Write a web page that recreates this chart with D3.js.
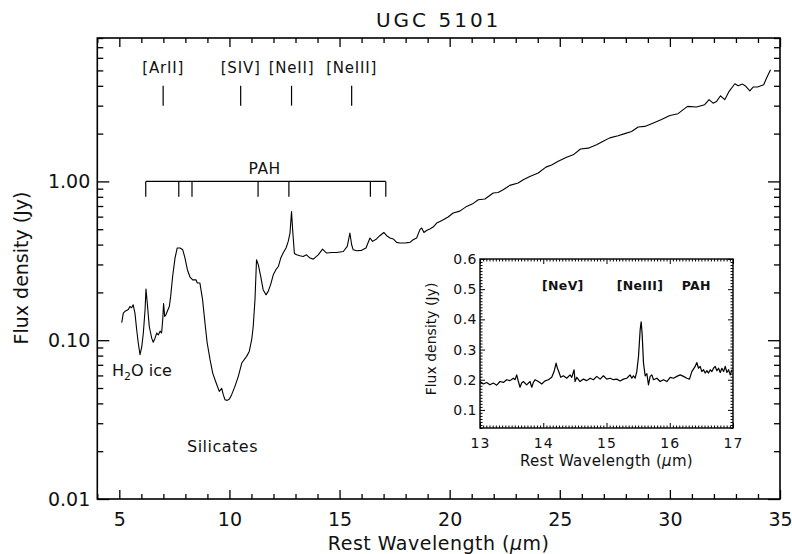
<!DOCTYPE html>
<html>
<head>
<meta charset="utf-8">
<script src="https://cdn.jsdelivr.net/npm/d3@7/dist/d3.min.js"></script>
<style>
  html, body { margin: 0; padding: 0; background: #fff; }
  svg { display: block; }
  text { font-family: "DejaVu Sans", sans-serif; fill: #111; }
</style>
</head>
<body>
<svg id="chart" width="792" height="554"></svg>
<script>
// ---------------- data ----------------
const titleText = "UGC 5101";
const wavelength = [5.11,5.18,5.26,5.41,5.48,5.56,5.63,5.71,5.79,5.86,5.94,6.02,6.09,6.17,6.21,6.27,6.36,6.47,6.54,6.62,6.70,6.77,6.85,6.92,6.97,7.01,7.06,7.12,7.18,7.27,7.33,7.42,7.53,7.63,7.76,7.88,7.98,8.09,8.21,8.33,8.48,8.54,8.66,8.78,8.89,8.99,9.12,9.24,9.39,9.54,9.65,9.72,9.80,9.90,10.0,10.1,10.25,10.40,10.56,10.78,10.90,11.01,11.08,11.16,11.23,11.31,11.42,11.53,11.66,11.76,11.87,11.99,12.11,12.22,12.33,12.45,12.57,12.67,12.75,12.82,12.88,12.95,13.05,13.20,13.35,13.50,13.66,13.81,14.03,14.23,14.41,14.64,14.87,15.17,15.35,15.47,15.55,15.62,15.78,16.00,16.20,16.38,16.50,16.68,16.83,17.01,17.14,17.29,17.44,17.59,17.74,17.97,18.20,18.34,18.50,18.65,18.73,18.83,18.95,19.10,19.25,19.41,19.56,19.71,19.93,20.16,20.46,20.77,21.07,21.30,21.60,21.98,22.20,22.43,22.73,23.11,23.34,23.64,24.02,24.37,24.63,24.93,25.31,25.61,25.94,26.29,26.67,26.97,27.27,27.65,27.95,28.26,28.56,28.86,29.17,29.62,30.00,30.37,30.80,31.21,31.58,31.78,31.96,32.12,32.30,32.49,32.69,32.95,33.10,33.30,33.45,33.63,33.78,33.98,34.26,34.39,34.57];
const flux = [0.129,0.148,0.152,0.156,0.163,0.160,0.167,0.148,0.116,0.096,0.081,0.091,0.111,0.156,0.210,0.171,0.122,0.103,0.097,0.103,0.111,0.108,0.114,0.111,0.134,0.170,0.141,0.145,0.152,0.163,0.188,0.252,0.330,0.381,0.381,0.371,0.330,0.278,0.250,0.240,0.240,0.229,0.229,0.180,0.128,0.096,0.0754,0.0621,0.0542,0.0476,0.0497,0.0454,0.0422,0.0418,0.0426,0.0454,0.0512,0.0590,0.0718,0.0791,0.0850,0.1007,0.122,0.180,0.321,0.299,0.252,0.208,0.193,0.203,0.224,0.258,0.278,0.291,0.329,0.357,0.381,0.419,0.473,0.645,0.473,0.352,0.345,0.340,0.337,0.345,0.329,0.324,0.345,0.375,0.354,0.357,0.357,0.362,0.390,0.473,0.399,0.371,0.366,0.368,0.381,0.440,0.419,0.434,0.455,0.477,0.455,0.440,0.434,0.413,0.409,0.409,0.413,0.429,0.440,0.497,0.509,0.477,0.491,0.501,0.516,0.547,0.560,0.574,0.597,0.632,0.650,0.696,0.727,0.767,0.775,0.845,0.852,0.886,0.944,0.977,1.025,1.075,1.13,1.23,1.27,1.34,1.42,1.47,1.60,1.62,1.70,1.79,1.88,1.94,2.00,2.06,2.20,2.22,2.31,2.45,2.60,2.67,2.97,2.94,3.04,3.27,3.11,3.19,3.46,3.27,3.69,4.12,4.00,4.10,3.97,3.72,3.93,3.93,4.06,4.48,5.05];

const xTickValues = [5,10,15,20,25,30,35];
const xTickLabels = ["5","10","15","20","25","30","35"];
const yTickValues = [0.01,0.1,1];
const yTickLabels = ["0.01","0.10","1.00"];

const lineNames = ["[ArII]","[SIV]","[NeII]","[NeIII]"];
const lineWavelengths = [6.99,10.51,12.82,15.55];
const lineMarkFlux = [3.0,4.0];

const pahLabel = "PAH";
const pahWavelengths = [6.2,7.7,8.3,11.3,12.7,16.4,17.1];
const pahBarFlux = [0.8,1.0];

const featureNames = ["Silicates"];

// inset
const insetWavelength = [13.000,13.053,13.105,13.158,13.211,13.264,13.316,13.369,13.422,13.475,13.527,13.554,13.580,13.607,13.633,13.659,13.686,13.738,13.791,13.818,13.844,13.870,13.923,13.976,14.028,14.081,14.134,14.171,14.203,14.224,14.245,14.276,14.319,14.371,14.424,14.451,14.487,14.503,14.530,14.582,14.635,14.688,14.741,14.793,14.846,14.899,14.951,15.004,15.057,15.110,15.162,15.215,15.268,15.321,15.373,15.400,15.426,15.453,15.479,15.506,15.532,15.548,15.563,15.585,15.611,15.638,15.664,15.690,15.717,15.743,15.796,15.849,15.901,15.954,16.007,16.059,16.112,16.165,16.217,16.270,16.312,16.349,16.402,16.428,16.454,16.481,16.507,16.534,16.560,16.587,16.613,16.640,16.666,16.692,16.719,16.745,16.772,16.798,16.824,16.851,16.877,16.904,16.930,16.956,16.983];
const insetFlux = [0.194,0.186,0.191,0.183,0.189,0.182,0.194,0.191,0.200,0.197,0.205,0.200,0.216,0.194,0.175,0.189,0.194,0.183,0.194,0.175,0.191,0.200,0.194,0.186,0.196,0.200,0.208,0.227,0.255,0.238,0.227,0.208,0.213,0.205,0.216,0.208,0.233,0.194,0.208,0.194,0.202,0.197,0.205,0.200,0.211,0.202,0.213,0.202,0.205,0.200,0.202,0.196,0.202,0.205,0.216,0.205,0.213,0.205,0.227,0.277,0.365,0.392,0.354,0.255,0.213,0.220,0.183,0.211,0.216,0.200,0.205,0.194,0.200,0.194,0.208,0.205,0.211,0.216,0.211,0.205,0.202,0.227,0.244,0.257,0.238,0.244,0.227,0.233,0.222,0.230,0.222,0.233,0.227,0.238,0.244,0.230,0.238,0.224,0.238,0.227,0.244,0.224,0.233,0.216,0.233];
const insetXTickValues = [13,14,15,16,17];
const insetXTickLabels = ["13","14","15","16","17"];
const insetYTickValues = [0.1,0.2,0.3,0.4,0.5,0.6];
const insetYTickLabels = ["0.1","0.2","0.3","0.4","0.5","0.6"];
const insetLineNames = ["[NeV]","[NeIII]","PAH"];
const insetLineWavelengths = [14.31,15.53,16.42];

// ---------------- chart ----------------
const svg = d3.select("#chart");
const W = 792, H = 554;
const m = {left: 97.3, right: 780, top: 38, bottom: 499};

const x = d3.scaleLinear().domain([4,35]).range([m.left, m.right]);
const y = d3.scaleLog().domain([0.01,8]).range([m.bottom, m.top]);

// minor tick values
const xMinor = d3.range(4,36,1).filter(v => v % 5 !== 0);
const yMinor = [];
[0.01,0.1,1].forEach(d => { for (let k=2;k<=9;k++){ const v=d*k; if (v<=8) yMinor.push(v);} });

function styleAxis(g){ g.select(".domain").remove(); g.selectAll("line").attr("stroke","#000").attr("stroke-width",1.3); }

// bottom
svg.append("g").attr("transform",`translate(0,${m.bottom})`)
  .call(d3.axisBottom(x).tickValues(xMinor).tickSize(-5).tickFormat("")).call(styleAxis);
const gxb = svg.append("g").attr("transform",`translate(0,${m.bottom})`)
  .call(d3.axisBottom(x).tickValues(xTickValues).tickSize(-9).tickPadding(14)
        .tickFormat((d,i)=>xTickLabels[i])).call(styleAxis);
gxb.selectAll("text").attr("font-size",19).attr("font-family","DejaVu Sans").attr("fill","#111");
// top
svg.append("g").attr("transform",`translate(0,${m.top})`)
  .call(d3.axisTop(x).tickValues(xMinor).tickSize(-5).tickFormat("")).call(styleAxis);
svg.append("g").attr("transform",`translate(0,${m.top})`)
  .call(d3.axisTop(x).tickValues(xTickValues).tickSize(-9).tickFormat("")).call(styleAxis);
// left
svg.append("g").attr("transform",`translate(${m.left},0)`)
  .call(d3.axisLeft(y).tickValues(yMinor).tickSize(-6).tickFormat("")).call(styleAxis);
const gyl = svg.append("g").attr("transform",`translate(${m.left},0)`)
  .call(d3.axisLeft(y).tickValues(yTickValues).tickSize(-12).tickPadding(7)
        .tickFormat((d,i)=>yTickLabels[i])).call(styleAxis);
gyl.selectAll("text").attr("font-size",19).attr("font-family","DejaVu Sans").attr("fill","#111");
// right
svg.append("g").attr("transform",`translate(${m.right},0)`)
  .call(d3.axisRight(y).tickValues(yMinor).tickSize(-6).tickFormat("")).call(styleAxis);
svg.append("g").attr("transform",`translate(${m.right},0)`)
  .call(d3.axisRight(y).tickValues(yTickValues).tickSize(-12).tickFormat("")).call(styleAxis);

// frame
svg.append("rect").attr("x",m.left).attr("y",m.top).attr("width",m.right-m.left).attr("height",m.bottom-m.top)
  .attr("fill","none").attr("stroke","#000").attr("stroke-width",1.6);

// spectrum
const spec = wavelength.map((w,i)=>[w,flux[i]]);
svg.append("path").datum(spec)
  .attr("d", d3.line().x(d=>x(d[0])).y(d=>y(d[1])))
  .attr("fill","none").attr("stroke","#000").attr("stroke-width",1.1).attr("stroke-linejoin","round");

// title & axis labels
svg.append("text").attr("x",(m.left+m.right)/2).attr("y",27).attr("text-anchor","middle")
  .attr("font-size",20).attr("letter-spacing",3).text(titleText);
svg.append("text").attr("x",(m.left+m.right)/2).attr("y",550).attr("text-anchor","middle")
  .attr("font-size",19).attr("letter-spacing",0.5)
  .html('Rest Wavelength (<tspan font-style="italic">μ</tspan>m)');
svg.append("text").attr("transform","translate(28,268) rotate(-90)").attr("text-anchor","middle")
  .attr("font-size",19).text("Flux density (Jy)");

// emission lines
const lg = svg.append("g");
lineNames.forEach((n,i)=>{
  const xx = x(lineWavelengths[i]);
  lg.append("line").attr("x1",xx).attr("x2",xx).attr("y1",y(lineMarkFlux[0])).attr("y2",y(lineMarkFlux[1]))
    .attr("stroke","#000").attr("stroke-width",1.2);
  lg.append("text").attr("x",xx).attr("y",y(lineMarkFlux[1])-13).attr("text-anchor","middle")
    .attr("font-size",15).attr("letter-spacing",0.8).text(n);
});

// PAH bracket
const pg = svg.append("g");
pg.append("line").attr("x1",x(d3.min(pahWavelengths))).attr("x2",x(d3.max(pahWavelengths)))
  .attr("y1",y(pahBarFlux[1])).attr("y2",y(pahBarFlux[1])).attr("stroke","#000").attr("stroke-width",1.2);
pahWavelengths.forEach(w=>{
  pg.append("line").attr("x1",x(w)).attr("x2",x(w)).attr("y1",y(pahBarFlux[1])).attr("y2",y(pahBarFlux[0]))
    .attr("stroke","#000").attr("stroke-width",1.2);
});
pg.append("text").attr("x",x(11.6)).attr("y",y(pahBarFlux[1])-7).attr("text-anchor","middle")
  .attr("font-size",15.5).attr("letter-spacing",0.5).text(pahLabel);

// feature labels
svg.append("text").attr("x",112).attr("y",376).attr("font-size",16)
  .html('H<tspan font-size="11" dy="4">2</tspan><tspan dy="-4">O ice</tspan>');
svg.append("text").attr("x",222.5).attr("y",452).attr("text-anchor","middle").attr("font-size",16)
  .attr("letter-spacing",0.5).text(featureNames[0]);

// ---------------- inset ----------------
const im = {left:480, right:733, top:259, bottom:428};
const ix = d3.scaleLinear().domain([13,17]).range([im.left, im.right]);
const iy = d3.scaleLinear().domain([0.04,0.6]).range([im.bottom, im.top]);
const ig = svg.append("g");
ig.append("rect").attr("x",im.left).attr("y",im.top).attr("width",im.right-im.left).attr("height",im.bottom-im.top)
  .attr("fill","#fff");
const ixMinor = d3.range(13,17.001,0.05).filter(v => Math.abs(v-Math.round(v))>1e-6);
const iyMinor = d3.range(0.04,0.6001,0.01).filter(v => Math.abs(v*10-Math.round(v*10))>1e-6);
function styleI(g){ g.select(".domain").remove(); g.selectAll("line").attr("stroke","#000").attr("stroke-width",1); }
ig.append("g").attr("transform",`translate(0,${im.bottom})`).call(d3.axisBottom(ix).tickValues(ixMinor).tickSize(-2.5).tickFormat("")).call(styleI);
ig.append("g").attr("transform",`translate(0,${im.top})`).call(d3.axisTop(ix).tickValues(ixMinor).tickSize(-2.5).tickFormat("")).call(styleI);
ig.append("g").attr("transform",`translate(${im.left},0)`).call(d3.axisLeft(iy).tickValues(iyMinor).tickSize(-2.5).tickFormat("")).call(styleI);
ig.append("g").attr("transform",`translate(${im.right},0)`).call(d3.axisRight(iy).tickValues(iyMinor).tickSize(-2.5).tickFormat("")).call(styleI);
const ixb = ig.append("g").attr("transform",`translate(0,${im.bottom})`)
  .call(d3.axisBottom(ix).tickValues(insetXTickValues).tickSize(-5).tickPadding(10).tickFormat((d,i)=>insetXTickLabels[i])).call(styleI);
ixb.selectAll("text").attr("font-size",14).attr("font-family","DejaVu Sans").attr("fill","#111").attr("letter-spacing",1);
ig.append("g").attr("transform",`translate(0,${im.top})`).call(d3.axisTop(ix).tickValues(insetXTickValues).tickSize(-5).tickFormat("")).call(styleI);
const iyl = ig.append("g").attr("transform",`translate(${im.left},0)`)
  .call(d3.axisLeft(iy).tickValues(insetYTickValues).tickSize(-5).tickPadding(3).tickFormat((d,i)=>insetYTickLabels[i])).call(styleI);
iyl.selectAll("text").attr("font-size",14).attr("font-family","DejaVu Sans").attr("fill","#111").attr("letter-spacing",0.5);
ig.append("g").attr("transform",`translate(${im.right},0)`).call(d3.axisRight(iy).tickValues(insetYTickValues).tickSize(-5).tickFormat("")).call(styleI);
ig.append("rect").attr("x",im.left).attr("y",im.top).attr("width",im.right-im.left).attr("height",im.bottom-im.top)
  .attr("fill","none").attr("stroke","#000").attr("stroke-width",1.4);

svg.append("clipPath").attr("id","iclip").append("rect")
  .attr("x",im.left).attr("y",im.top).attr("width",im.right-im.left).attr("height",im.bottom-im.top);
const ispec = insetWavelength.map((w,i)=>[w,insetFlux[i]]);
ig.append("path").datum(ispec).attr("clip-path","url(#iclip)")
  .attr("d", d3.line().x(d=>ix(d[0])).y(d=>iy(d[1])))
  .attr("fill","none").attr("stroke","#000").attr("stroke-width",1.2).attr("stroke-linejoin","round");

insetLineNames.forEach((n,i)=>{
  ig.append("text").attr("x",ix(insetLineWavelengths[i])).attr("y",iy(0.5)+1).attr("text-anchor","middle")
    .attr("font-size",12.5).attr("font-weight","bold").attr("letter-spacing",0.3).text(n);
});
ig.append("text").attr("x",(im.left+im.right)/2).attr("y",466).attr("text-anchor","middle")
  .attr("font-size",15).attr("letter-spacing",0.3)
  .html('Rest Wavelength (<tspan font-style="italic">μ</tspan>m)');
ig.append("text").attr("transform","translate(436,339) rotate(-90)").attr("text-anchor","middle")
  .attr("font-size",14).text("Flux density (Jy)");
</script>
</body>
</html>
